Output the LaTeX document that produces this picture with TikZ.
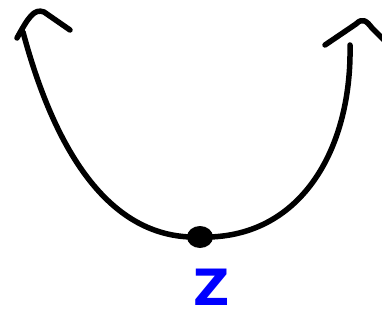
\documentclass[tikz,border=0pt]{standalone}
\usepackage{fontspec}
\setsansfont{DejaVu Sans}
\begin{document}
\begin{tikzpicture}[x=1pt,y=-1pt,
  ink/.style={line width=5.5pt,line cap=round,line join=round},
  lbl/.style={text=blue,font=\sffamily\bfseries\fontsize{50}{50}\selectfont,inner sep=0pt}]
\useasboundingbox (0,0) rectangle (382,320);
\coordinate (L) at (23,32);
\coordinate (R) at (350,45);
\coordinate (Z) at (200,237);
% curve
\draw[ink] (L) .. controls (60,170) and (120,240) .. (Z)
  .. controls (300,240) and (352,150) .. (R);
% left arrowhead
\draw[ink] (17,38) .. controls (28,18) and (34,8) .. (44,12) -- (70,30);
% right arrowhead
\draw[ink] (325,45) -- (356,24) .. controls (362,18) and (366,20) .. (372,28) -- (384,40);
% dot
\fill (Z) ellipse (13 and 11);
\node[lbl] (z) at (212,287) {Z};
\end{tikzpicture}
\end{document}
